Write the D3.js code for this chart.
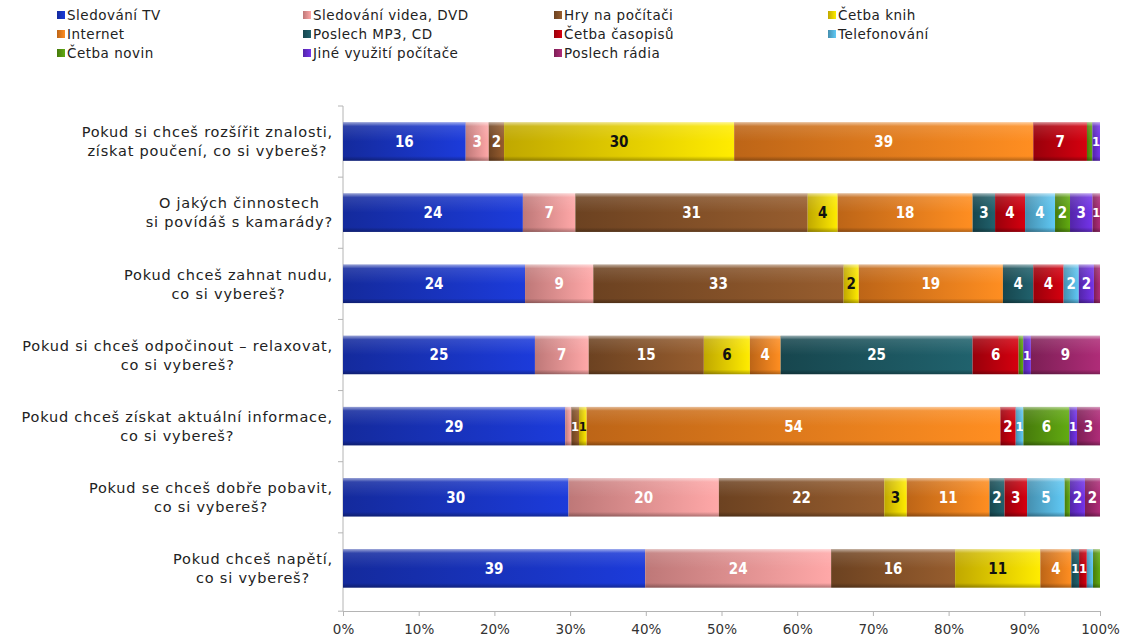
<!DOCTYPE html>
<html>
<head>
<meta charset="utf-8">
<script src="https://cdn.jsdelivr.net/npm/d3@7"></script>
<style>
  body { margin: 0; background: #fff; }
  text { font-family: "DejaVu Sans", sans-serif; }
</style>
</head>
<body>
<svg class="chart"></svg>
<script>
// otázky (kategorie)
var categories = [
  "Pokud si chceš rozšířit znalosti,\nzískat poučení, co si vybereš?",
  "O jakých činnostech\nsi povídáš s kamarády?",
  "Pokud chceš zahnat nudu,\nco si vybereš?",
  "Pokud si chceš odpočinout – relaxovat,\nco si vybereš?",
  "Pokud chceš získat aktuální informace,\nco si vybereš?",
  "Pokud se chceš dobře pobavit,\nco si vybereš?",
  "Pokud chceš napětí,\nco si vybereš?"
]

var seriesNames = ["Sledování TV", "Sledování videa, DVD", "Hry na počítači", "Četba knih",
  "Internet", "Poslech MP3, CD", "Četba časopisů", "Telefonování",
  "Četba novin", "Jiné využití počítače", "Poslech rádia"]

var seriesColors = ["#1a36c8", "#f49a9a", "#8a552a", "#f6d800", "#f2821e", "#1d5a64",
  "#c4000e", "#58b8e0", "#5a9c10", "#6a30d8", "#a0286e"]

// hodnoty v % pro každou kategorii (pořadí jako categories)
var sledovaniTV = [16, 24, 24, 25, 29, 30, 39]
var sledovaniVidea = [3, 7, 9, 7, 0.8, 20, 24]
var hry = [2, 31, 33, 15, 1, 22, 16]
var cetbaKnih = [30, 4, 2, 6, 1, 3, 11]
var internet = [39, 18, 19, 4, 54, 11, 4]
var poslechMP3 = [0, 3, 4, 25, 0, 2, 1]
var cetbaCasopisu = [7, 4, 4, 6, 2, 3, 1]
var telefonovani = [0, 4, 2, 0, 1, 5, 0.8]
var cetbaNovin = [0.7, 2, 0, 0.6, 6, 0.7, 0.9]
var jineVyuziti = [1, 3, 2, 1, 1, 2, 0]
var poslechRadia = [0, 1, 0.8, 9, 3, 2, 0]

var seriesValues = [sledovaniTV, sledovaniVidea, hry, cetbaKnih, internet, poslechMP3,
  cetbaCasopisu, telefonovani, cetbaNovin, jineVyuziti, poslechRadia]

var xTicks = [0, 0.1, 0.2, 0.3, 0.4, 0.5, 0.6, 0.7, 0.8, 0.9, 1]

// tabulka pro d3.stack
var table = categories.map((c, i) => {
  var row = { cat: c }
  seriesNames.forEach((s, j) => { row[s] = seriesValues[j][i] })
  return row
})

var stack = d3.stack().keys(seriesNames).offset(d3.stackOffsetExpand)
var layers = stack(table)

var svg = d3.select(".chart").attr("width", 1126).attr("height", 641)

var x = d3.scaleLinear().domain([0, 1]).range([343, 1100])
var y = d3.scaleBand().domain(categories).range([106, 604]).paddingInner(0.46).paddingOuter(0.23)

// gradienty (excel styl)
var defs = svg.append("defs")
seriesColors.forEach((c, i) => {
  var g = defs.append("linearGradient").attr("id", "g" + i)
    .attr("x1", 0).attr("x2", 1).attr("y1", 0).attr("y2", 0)
  g.append("stop").attr("offset", 0).attr("stop-color", d3.color(c).darker(0.7))
  g.append("stop").attr("offset", 1).attr("stop-color", d3.color(c).brighter(0.25))
})
var shine = defs.append("linearGradient").attr("id", "shine")
  .attr("x1", 0).attr("x2", 0).attr("y1", 0).attr("y2", 1)
shine.append("stop").attr("offset", 0).attr("stop-color", "#fff").attr("stop-opacity", 0.55)
shine.append("stop").attr("offset", 0.1).attr("stop-color", "#fff").attr("stop-opacity", 0.12)
shine.append("stop").attr("offset", 0.5).attr("stop-color", "#fff").attr("stop-opacity", 0)
shine.append("stop").attr("offset", 0.88).attr("stop-color", "#000").attr("stop-opacity", 0)
shine.append("stop").attr("offset", 1).attr("stop-color", "#000").attr("stop-opacity", 0.3)

// osa y
svg.append("line")
  .attr("x1", 343).attr("x2", 343).attr("y1", 106).attr("y2", 611)
  .attr("stroke", "#b4b4b4")
svg.selectAll("line.ytick").data(d3.range(8))
  .enter().append("line").attr("class", "ytick")
  .attr("x1", 338).attr("x2", 343)
  .attr("y1", d => 106 + d * y.step() * (d == 7 ? 505 / 497.8 : 1))
  .attr("y2", d => 106 + d * y.step() * (d == 7 ? 505 / 497.8 : 1))
  .attr("stroke", "#b4b4b4")

// osa x
var xAxis = svg.append("g").attr("transform", "translate(0,611)")
  .call(d3.axisBottom(x).tickValues(xTicks).tickFormat(d3.format(".0%")).tickSize(5).tickPadding(8))
xAxis.select(".domain").attr("stroke", "#b4b4b4")
xAxis.selectAll(".tick line").attr("stroke", "#b4b4b4")
xAxis.selectAll("text").style("font-size", "13.5px").attr("fill", "#333")
  .style("font-family", "DejaVu Sans, sans-serif")

// pruhy
var groups = svg.selectAll("g.layer").data(layers)
  .enter().append("g").attr("class", "layer")

groups.selectAll("rect.bar").data((d, i) => d.map(p => ({ p: p, i: i })))
  .enter().append("rect").attr("class", "bar")
  .attr("x", d => x(d.p[0]))
  .attr("width", d => x(d.p[1]) - x(d.p[0]))
  .attr("y", d => y(d.p.data.cat))
  .attr("height", y.bandwidth())
  .attr("fill", d => "url(#g" + d.i + ")")

groups.selectAll("rect.shine").data((d, i) => d.map(p => ({ p: p, i: i })))
  .enter().append("rect").attr("class", "shine")
  .attr("x", d => x(d.p[0]))
  .attr("width", d => x(d.p[1]) - x(d.p[0]))
  .attr("y", d => y(d.p.data.cat))
  .attr("height", y.bandwidth())
  .attr("fill", "url(#shine)")

// popisky hodnot
groups.selectAll("text.val").data((d, i) => d.map((p, k) => ({ p: p, i: i, v: seriesValues[i][k] })).filter(d => d.v >= 1))
  .enter().append("text").attr("class", "val")
  .text(d => Math.round(d.v))
  .attr("x", d => (x(d.p[0]) + x(d.p[1])) / 2)
  .attr("y", d => y(d.p.data.cat) + y.bandwidth() / 2)
  .attr("dy", "0.36em")
  .attr("text-anchor", "middle")
  .style("font-family", "'DejaVu Sans Condensed', 'Liberation Sans Narrow', sans-serif")
  .style("font-stretch", "condensed")
  .style("font-weight", "bold")
  .style("font-size", d => (x(d.p[1]) - x(d.p[0]) < 10 ? "13px" : "15px"))
  .attr("fill", d => d.i == 3 ? "#111" : "#fff")

// popisky kategorií (víceřádkové, centrované)
categories.forEach(c => {
  var lines = c.split("\n")
  var t = svg.append("text").attr("text-anchor", "middle")
    .style("font-size", "14.5px").style("letter-spacing", "0.8px").attr("fill", "#222")
  lines.forEach((l, k) => {
    t.append("tspan").text(l)
      .attr("y", y(c) + y.bandwidth() / 2 - 9.5 + k * 19).attr("dy", "0.36em")
  })
  var w = 0
  t.selectAll("tspan").each(function () { w = Math.max(w, this.getComputedTextLength()) })
  t.selectAll("tspan").attr("x", 333 - w / 2)
})

// legenda
var legX = [57, 303, 554, 828]
var legend = svg.selectAll("g.leg").data(seriesNames)
  .enter().append("g").attr("class", "leg")
  .attr("transform", (d, i) => `translate(${legX[i % 4]},${15 + Math.floor(i / 4) * 19})`)
legend.append("rect").attr("x", 0).attr("y", -4).attr("width", 8).attr("height", 8)
  .attr("fill", (d, i) => "url(#g" + i + ")")
legend.append("text").text(d => d)
  .attr("x", 10).attr("dy", "0.36em")
  .style("font-size", "13.5px").style("letter-spacing", "0.5px").attr("fill", "#222")
</script>
</body>
</html>
